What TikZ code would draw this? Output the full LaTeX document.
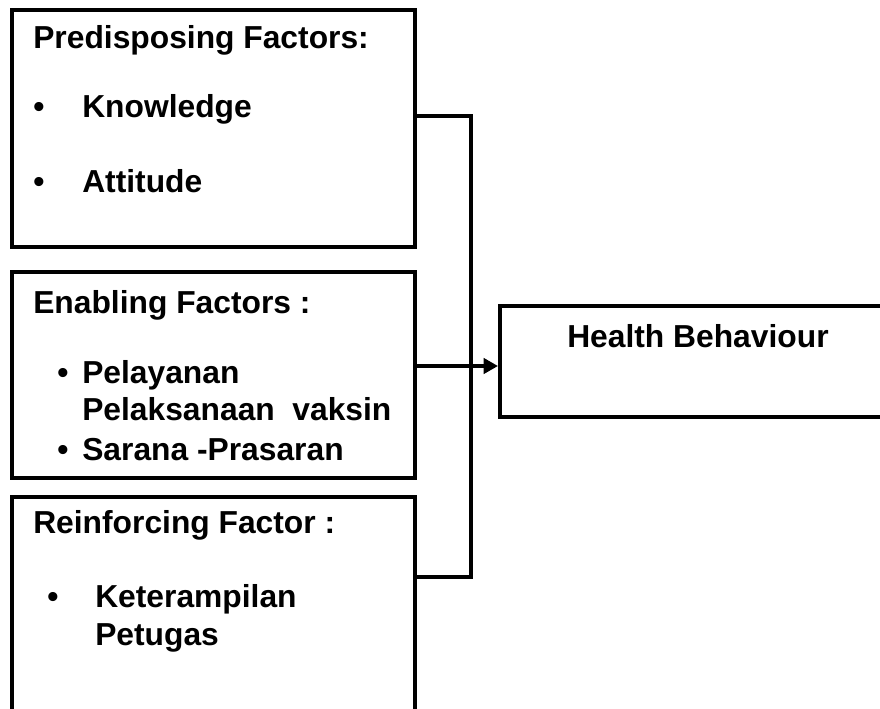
\documentclass[tikz,border=0pt]{standalone}
\usepackage{fontspec}
\setmainfont{Liberation Sans}
\usetikzlibrary{arrows.meta,fit}

\tikzset{
  factorbox/.style={draw, line width=2.8pt, inner sep=0pt},
  link/.style={line width=2.6pt},
  factortext/.style={anchor=base west, inner sep=0pt, font=\fontsize{22.6}{26}\selectfont\bfseries},
}

\begin{document}
\begin{tikzpicture}[x=0.025cm, y=-0.025cm]

\useasboundingbox (0,0) rectangle (880,709);
\clip (0,0) rectangle (880,709);

% boxes
\node[factorbox, fit={(12,10) (415,247)}] (pre) {};
\node[factorbox, fit={(12,272) (415,478)}] (en) {};
\node[factorbox, fit={(12,497) (415,740)}] (rein) {};
\node[factorbox, fit={(500,306) (900,417)}] (hb) {};

% predisposing
\node[factortext] (preTitle) at (33,49) {Predisposing Factors:};
\node[factortext] (preDot1) at (33,118) {\textbullet};
\node[factortext] (preKnow) at (82,118) {Knowledge};
\node[factortext] (preDot2) at (33,192) {\textbullet};
\node[factortext] (preAtt) at (82,192) {Attitude};

% enabling
\node[factortext] (enTitle) at (33,313) {Enabling Factors :};
\node[factortext] (enDot1) at (57,383) {\textbullet};
\node[factortext] (enPel1) at (82,383) {Pelayanan};
\node[factortext] (enPel2) at (82,420) {Pelaksanaan\ \ vaksin};
\node[factortext] (enDot2) at (57,460) {\textbullet};
\node[factortext] (enSar) at (82,460) {Sarana -Prasaran};

% reinforcing
\node[factortext] (reinTitle) at (33,533) {Reinforcing Factor :};
\node[factortext] (reinDot) at (47,607) {\textbullet};
\node[factortext] (reinKet1) at (95,607) {Keterampilan};
\node[factortext] (reinKet2) at (95,645) {Petugas};

% outcome
\node[factortext] (hbTitle) at (567,347) {Health Behaviour};

% connectors
\coordinate (j1) at (471,116);
\coordinate (j2) at (471,366);
\coordinate (j3) at (471,577);
\draw[link] (pre.east |- j1) -- (j1) -- (j3) -- (rein.east |- j3);
\draw[link, -{Triangle[length=0.36cm, width=0.38cm]}] (en.east |- j2) -- (hb.west |- j2);

\end{tikzpicture}
\end{document}
